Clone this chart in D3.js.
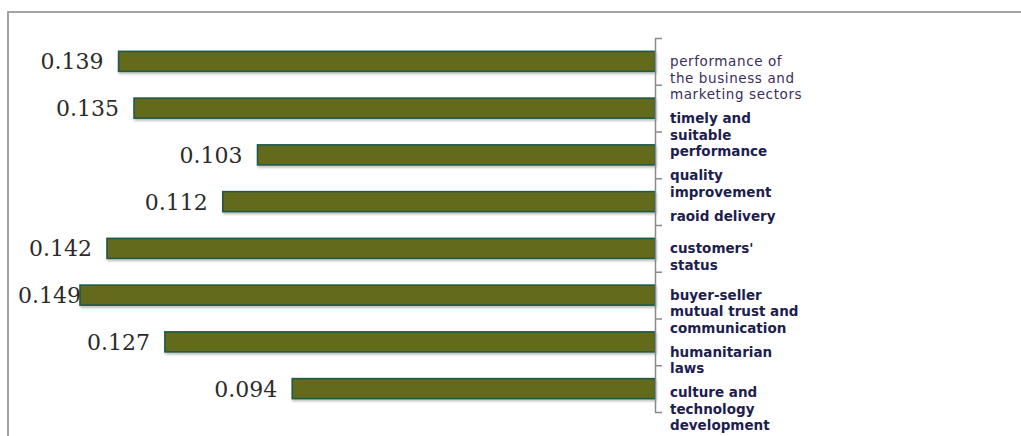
<!DOCTYPE html>
<html>
<head>
<meta charset="utf-8">
<script src="https://cdn.jsdelivr.net/npm/d3@7"></script>
<style>
  body { margin: 0; background: #fff; }
</style>
</head>
<body>
<div id="chart"></div>
<script>
// categories, top to bottom
const categories = [
  "performance of the business and marketing sectors",
  "timely and suitable performance",
  "quality improvement",
  "raoid delivery",
  "customers' status",
  "buyer-seller mutual trust and communication",
  "humanitarian laws",
  "culture and technology development"
]
// wrapped label lines, as printed in the picture
const labelLines = [
  ["performance of", "the business and", "marketing sectors"],
  ["timely and", "suitable", "performance"],
  ["quality", "improvement"],
  ["raoid delivery"],
  ["customers'", "status"],
  ["buyer-seller", "mutual trust and", "communication"],
  ["humanitarian", "laws"],
  ["culture and", "technology", "development"]
]
const values = [0.139, 0.135, 0.103, 0.112, 0.142, 0.149, 0.127, 0.094]

const width = 1021, height = 436
const axisX = 655, plotTop = 38, plotBottom = 412

const svg = d3.select("#chart").append("svg")
    .attr("width", width)
    .attr("height", height)
    .attr("viewBox", [0, 0, width, height])

// soft shadow under the bars
const defs = svg.append("defs")
defs.append("filter")
    .attr("id", "shadow")
    .attr("x", "-5%").attr("y", "-30%").attr("width", "110%").attr("height", "170%")
  .append("feDropShadow")
    .attr("dx", 1).attr("dy", 2).attr("stdDeviation", 1)
    .attr("flood-color", "#000").attr("flood-opacity", 0.25)

// outer frame (runs off the right and bottom edge)
svg.append("rect")
    .attr("x", 8).attr("y", 12)
    .attr("width", width + 20).attr("height", height + 20)
    .attr("fill", "none")
    .attr("stroke", "#a3a3a3")
    .attr("stroke-width", 2)

const x = d3.scaleLinear().domain([0, 0.149]).range([axisX, 80])
const y = d3.scaleBand().domain(categories).range([plotTop, plotBottom])
    .paddingInner(0.572).paddingOuter(0.286)
const tickScale = d3.scaleLinear().domain([0, categories.length]).range([plotTop, plotBottom])

// bars grow leftwards from the axis
svg.append("g")
  .selectAll("rect")
  .data(values)
  .join("rect")
    .attr("x", d => x(d))
    .attr("y", (d, i) => y(categories[i]))
    .attr("width", d => x(0) - x(d))
    .attr("height", y.bandwidth())
    .attr("fill", "#646b1d")
    .attr("stroke", "#1e5a49")
    .attr("stroke-width", 1.6)
    .attr("filter", "url(#shadow)")

// value labels
svg.append("g")
    .attr("font-family", "'DejaVu Serif', serif")
    .attr("font-size", 22)
    .attr("fill", "#2b2b2b")
  .selectAll("text")
  .data(values)
  .join("text")
    .attr("y", (d, i) => y(categories[i]) + y.bandwidth() / 2)
    .attr("dy", "0.36em")
    .attr("text-anchor", "end")
    .text(d => d.toFixed(3))
    .attr("x", function (d) {
        const w = this.getComputedTextLength()
        return Math.max(x(d) - 15, 18 + w)
    })

// bracket-like axis, ticks at band edges pointing right
svg.append("g")
    .attr("transform", `translate(${axisX},0)`)
    .call(d3.axisRight(tickScale)
        .tickValues(d3.range(categories.length + 1))
        .tickSizeInner(7)
        .tickSizeOuter(0)
        .tickFormat(""))
    .call(g => g.select(".domain").attr("stroke", "#8a8a8a").attr("stroke-width", 1.5))
    .call(g => g.selectAll(".tick line").attr("stroke", "#8a8a8a").attr("stroke-width", 1.5))

// category labels: first line at the bar centre, pushed down when the
// previous label would run into it
const lineH = 16.5, minGap = 24
let prevLast = -Infinity
const labelTop = labelLines.map((lines, i) => {
    const want = y(categories[i]) + y.bandwidth() / 2
    const t = Math.max(want, prevLast + minGap)
    prevLast = t + (lines.length - 1) * lineH
    return t
})

const labels = svg.append("g")
    .attr("font-family", "'DejaVu Sans', Verdana, sans-serif")
    .attr("font-size", 13.5)
  .selectAll("text")
  .data(labelLines)
  .join("text")
    .attr("font-weight", (d, i) => i === 0 ? "normal" : "bold")
    .attr("letter-spacing", (d, i) => i === 0 ? 0.6 : 0)
    .attr("fill", (d, i) => i === 0 ? "#3a2d5c" : "#1d1d4e")
    .attr("transform", (d, i) => `translate(${axisX + 15},${labelTop[i]})`)

labels.selectAll("tspan")
  .data(d => d)
  .join("tspan")
    .attr("x", 0)
    .attr("y", (d, i) => i * lineH)
    .attr("dy", "0.35em")
    .text(d => d)
</script>
</body>
</html>
